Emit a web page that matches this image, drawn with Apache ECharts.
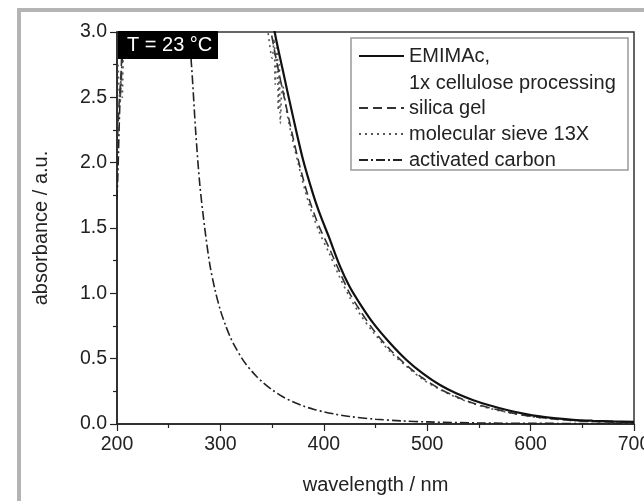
<!DOCTYPE html>
<html>
<head>
<meta charset="utf-8">
<script src="https://cdn.jsdelivr.net/npm/echarts@6/dist/echarts.min.js"></script>
<style>
html,body{margin:0;padding:0;background:#fff;}
#chart{width:644px;height:501px;}
</style>
</head>
<body>
<div id="chart"></div>
<script>
// ---- data (wavelength nm, absorbance a.u.) ----
const seriesNames = ['EMIMAc,', 'silica gel', 'molecular sieve 13X', 'activated carbon'];
const legendSecondLine = '1x cellulose processing';
const tempLabel = 'T = 23 °C';
const xTitle = 'wavelength / nm';
const yTitle = 'absorbance / a.u.';

const emimac = [
  [349, 3.2], [352.5, 3.0], [360, 2.72], [370, 2.36], [380, 2.02], [390, 1.75], [397, 1.59],
  [405, 1.43], [415, 1.22], [425, 1.05], [435, 0.92], [448, 0.77], [464, 0.62],
  [480, 0.49], [496, 0.385], [512, 0.30], [528, 0.235], [544, 0.184], [560, 0.143],
  [577, 0.107], [593, 0.08], [609, 0.058], [625, 0.043], [641, 0.032], [660, 0.025],
  [680, 0.02], [700, 0.017]
];
const silicaGel = [
  [200, 2.1], [202, 2.45], [204, 2.7], [206, 3.2], [210, 3.4], [340, 3.4],
  [349, 3.0], [355, 2.75], [365, 2.38], [375, 2.03], [385, 1.74], [395, 1.52],
  [405, 1.35], [415, 1.17], [425, 1.0], [435, 0.87], [448, 0.72], [464, 0.57],
  [480, 0.45], [496, 0.35], [512, 0.27], [528, 0.21], [544, 0.16], [560, 0.125],
  [577, 0.093], [593, 0.068], [609, 0.05], [625, 0.037], [641, 0.027], [660, 0.02],
  [680, 0.015], [700, 0.012]
];
const molecularSieve = [
  [201, 2.75], [203, 2.45], [204, 2.65], [205, 2.5], [206, 2.8], [208, 3.3], [212, 3.4], [338, 3.4],
  [346, 3.0], [350, 2.8], [352, 2.95], [353, 2.6], [355, 2.9], [356, 2.4], [357, 2.75],
  [358, 2.3], [360, 2.6], [365, 2.35], [375, 2.0], [385, 1.7], [395, 1.48], [405, 1.31],
  [415, 1.13], [425, 0.97], [435, 0.84], [448, 0.70], [464, 0.555], [480, 0.44],
  [496, 0.34], [512, 0.265], [528, 0.205], [544, 0.157], [560, 0.12], [577, 0.09],
  [593, 0.066], [609, 0.048], [625, 0.036], [641, 0.026], [660, 0.019], [680, 0.014],
  [700, 0.011]
];
const activatedCarbon = [
  [200, 1.72], [201, 1.95], [202, 2.25], [203, 2.5], [204, 2.62], [205, 2.78], [207, 3.1],
  [210, 3.4], [265, 3.4], [272, 2.75], [276, 2.25], [280, 1.84], [285, 1.49], [290, 1.21],
  [295, 1.02], [300, 0.87], [305, 0.755], [310, 0.657], [315, 0.58], [320, 0.512],
  [325, 0.455], [330, 0.407], [335, 0.364], [340, 0.326], [350, 0.262], [360, 0.21],
  [370, 0.17], [380, 0.138], [390, 0.113], [400, 0.093], [412, 0.074], [425, 0.0575],
  [450, 0.0367], [475, 0.024], [500, 0.016], [550, 0.008], [600, 0.005], [650, 0.004],
  [700, 0.003]
];
const xMin = 200, xMax = 700, xStep = 100;
const yMin = 0, yMax = 3, yStep = 0.5;

// ---- chart ----
const FONT = '"Liberation Sans", Arial, Helvetica, sans-serif';
const chart = echarts.init(document.getElementById('chart'), null, {renderer: 'canvas'});

const lineStyles = [
  {color: '#111', width: 2.2, type: 'solid'},
  {color: '#333', width: 1.6, type: [9, 5]},
  {color: '#555', width: 1.6, type: [2, 4]},
  {color: '#222', width: 1.6, type: [9, 3, 2, 3]}
];
const datasets = [emimac, silicaGel, molecularSieve, activatedCarbon];

const series = datasets.map((d, i) => ({
  name: seriesNames[i],
  type: 'line',
  data: d,
  showSymbol: false,
  symbol: 'none',
  smooth: 0.3,
  clip: true,
  z: 4 - i,
  lineStyle: lineStyles[i],
  itemStyle: {color: lineStyles[i].color},
  emphasis: {disabled: true}
}));

const legendCommon = {
  orient: 'vertical',
  left: 358,
  padding: 0,
  itemWidth: 45,
  itemHeight: 12,
  itemGap: 4,
  selectedMode: false,
  itemStyle: {opacity: 0},
  textStyle: {fontFamily: FONT, fontSize: 20, color: '#222', lineHeight: 22}
};

chart.setOption({
  animation: false,
  backgroundColor: '#fff',
  grid: {left: 117, right: 10, top: 32, bottom: 77, containLabel: false, outerBoundsMode: 'none',
         show: true, borderColor: '#333', borderWidth: 1.5, backgroundColor: 'transparent'},
  xAxis: {
    type: 'value', min: xMin, max: xMax, interval: xStep,
    name: xTitle, nameLocation: 'middle', nameGap: 51,
    nameTextStyle: {fontFamily: FONT, fontSize: 20, color: '#222'},
    axisLine: {show: true, lineStyle: {color: '#222', width: 1.5}},
    axisTick: {show: true, inside: false, length: 7, lineStyle: {color: '#222', width: 1.2}},
    minorTick: {show: true, splitNumber: 2, length: 4, lineStyle: {color: '#222', width: 1.2}},
    splitLine: {show: false},
    axisLabel: {fontFamily: FONT, fontSize: 19.5, color: '#222', margin: 11, showMaxLabel: true}
  },
  yAxis: {
    type: 'value', min: yMin, max: yMax, interval: yStep,
    name: yTitle, nameLocation: 'middle', nameGap: 66, nameRotate: 90,
    nameTextStyle: {fontFamily: FONT, fontSize: 20, color: '#222'},
    axisLine: {show: true, lineStyle: {color: '#222', width: 1.5}},
    axisTick: {show: true, inside: false, length: 7, lineStyle: {color: '#222', width: 1.2}},
    minorTick: {show: true, splitNumber: 2, length: 4, lineStyle: {color: '#222', width: 1.2}},
    splitLine: {show: false},
    axisLabel: {fontFamily: FONT, fontSize: 19.5, color: '#222', margin: 10,
                formatter: v => v.toFixed(1)}
  },
  legend: [
    Object.assign({}, legendCommon, {data: [seriesNames[0]], top: 45}),
    Object.assign({}, legendCommon, {data: seriesNames.slice(1), top: 97})
  ],
  graphic: [
    {type: 'rect', z: 100, silent: true,
     shape: {x: 19, y: 10, width: 700, height: 600},
     style: {fill: 'none', stroke: '#b4b4b4', lineWidth: 4}},
    {type: 'rect', z: 50, silent: true,
     shape: {x: 351, y: 38, width: 277, height: 132},
     style: {fill: 'none', stroke: '#999', lineWidth: 1.5}},
    {type: 'rect', z: 60, silent: true,
     shape: {x: 118, y: 31, width: 100, height: 28},
     style: {fill: '#000'}},
    {type: 'text', z: 61, silent: true, left: 127, top: 35,
     style: {text: tempLabel, fill: '#fff', font: '20px ' + FONT}},
    {type: 'text', z: 61, silent: true, left: 409, top: 73,
     style: {text: legendSecondLine, fill: '#222', font: '20px ' + FONT}}
  ],
  series: series
});
</script>
</body>
</html>
